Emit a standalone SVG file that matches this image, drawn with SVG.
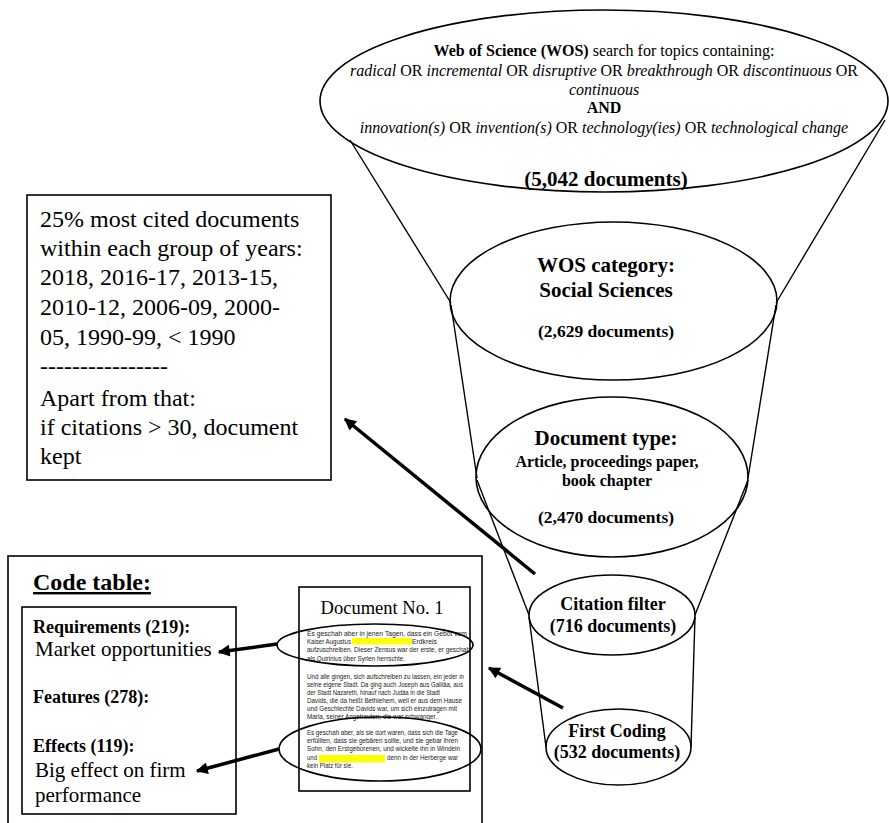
<svg xmlns="http://www.w3.org/2000/svg" width="889" height="823" viewBox="0 0 889 823">
<defs>
<style>
.ser{font-family:"Liberation Serif","Times New Roman",serif;fill:#000}
.b{font-weight:bold}
.i{font-style:italic}
.shape{fill:#fff;stroke:#000;stroke-width:1.6}
.hollow{fill:none;stroke:#000;stroke-width:1.6}
.line{stroke:#000;stroke-width:1.4;fill:none}
.arrow{stroke:#000;stroke-width:3.5;fill:none;marker-end:url(#ah)}
.doc{font-family:"Liberation Sans",Arial,sans-serif;font-size:6.6px;fill:#222}
</style>
<marker id="ah" viewBox="0 0 10 10" refX="9" refY="5" markerWidth="4.2" markerHeight="3.4" orient="auto" markerUnits="strokeWidth">
<path d="M0,0 L10,5 L0,10 z" fill="#000"/>
</marker>
</defs>
<rect width="889" height="823" fill="#fff"/>

<g id="funnel-outline">
<line class="line" x1="350" y1="140" x2="451" y2="303"/>
<line class="line" x1="885" y1="120" x2="776" y2="303"/>
<line class="line" x1="451" y1="305" x2="477" y2="478"/>
<line class="line" x1="776" y1="305" x2="748" y2="478"/>
<line class="line" x1="477" y1="480" x2="529" y2="615"/>
<line class="line" x1="748" y1="480" x2="695" y2="615"/>
<line class="line" x1="529" y1="617" x2="546" y2="747"/>
<line class="line" x1="695" y1="617" x2="691" y2="747"/>
</g>

<g id="wos-search">
<ellipse class="hollow" cx="604" cy="101" rx="284" ry="91"/>
<text class="ser" font-size="16" text-anchor="middle" x="604" y="56"><tspan class="b">Web of Science (WOS)</tspan> search for topics containing:</text>
<text class="ser" font-size="16" text-anchor="middle" x="604" y="76"><tspan class="i">radical</tspan> OR <tspan class="i">incremental</tspan> OR <tspan class="i">disruptive</tspan> OR <tspan class="i">breakthrough</tspan> OR <tspan class="i">discontinuous</tspan> OR</text>
<text class="ser i" font-size="16" text-anchor="middle" x="604" y="95">continuous</text>
<text class="ser b" font-size="16" text-anchor="middle" x="604" y="113">AND</text>
<text class="ser" font-size="16" text-anchor="middle" x="604" y="133"><tspan class="i">innovation(s)</tspan> OR <tspan class="i">invention(s)</tspan> OR <tspan class="i">technology(ies)</tspan> OR <tspan class="i">technological change</tspan></text>
<text class="ser b" font-size="21" text-anchor="middle" x="606" y="186">(5,042 documents)</text>
</g>

<g id="wos-category">
<ellipse class="hollow" cx="613.5" cy="301" rx="163.5" ry="79"/>
<text class="ser b" font-size="21" text-anchor="middle" x="606" y="272">WOS category:</text>
<text class="ser b" font-size="21" text-anchor="middle" x="606" y="297">Social Sciences</text>
<text class="ser b" font-size="17.5" text-anchor="middle" x="606" y="337">(2,629 documents)</text>
</g>

<g id="document-type">
<ellipse class="hollow" cx="612" cy="477" rx="136" ry="80"/>
<text class="ser b" font-size="21" text-anchor="middle" x="606" y="445">Document type:</text>
<text class="ser b" font-size="16" text-anchor="middle" x="607" y="467">Article, proceedings paper,</text>
<text class="ser b" font-size="16" text-anchor="middle" x="607" y="486">book chapter</text>
<text class="ser b" font-size="17.5" text-anchor="middle" x="606" y="523">(2,470 documents)</text>
</g>

<g id="citation-filter">
<ellipse class="shape" cx="612" cy="615" rx="83" ry="40"/>
<text class="ser b" font-size="18" text-anchor="middle" x="613" y="610">Citation filter</text>
<text class="ser b" font-size="18" text-anchor="middle" x="613" y="632">(716 documents)</text>
</g>

<g id="first-coding">
<ellipse class="shape" cx="618.5" cy="747" rx="72.5" ry="38"/>
<text class="ser b" font-size="18" text-anchor="middle" x="617" y="737">First Coding</text>
<text class="ser b" font-size="18" text-anchor="middle" x="617" y="758">(532 documents)</text>
</g>

<g id="citation-criteria">
<rect class="shape" x="27" y="195" width="304" height="285"/>
<text class="ser" font-size="24" x="40" y="227">25% most cited documents</text>
<text class="ser" font-size="24" x="40" y="256">within each group of years:</text>
<text class="ser" font-size="24" x="40" y="285">2018, 2016-17, 2013-15,</text>
<text class="ser" font-size="24" x="40" y="315">2010-12, 2006-09, 2000-</text>
<text class="ser" font-size="24" x="40" y="345">05, 1990-99, &lt; 1990</text>
<text class="ser" font-size="24" x="40" y="374">----------------</text>
<text class="ser" font-size="24" x="40" y="406">Apart from that:</text>
<text class="ser" font-size="24" x="40" y="435">if citations &gt; 30, document</text>
<text class="ser" font-size="24" x="40" y="464">kept</text>
</g>

<g id="code-table">
<rect class="shape" x="8" y="556" width="474" height="290" stroke-width="2"/>
<text class="ser b" font-size="24" x="33" y="590" text-decoration="underline">Code table:</text>
<rect class="shape" x="22" y="607" width="214" height="207"/>
<text class="ser b" font-size="18" x="33" y="633">Requirements (219):</text>
<text class="ser" font-size="21" x="35" y="656">Market opportunities</text>
<text class="ser b" font-size="18" x="33" y="703">Features (278):</text>
<text class="ser b" font-size="18" x="33" y="752">Effects (119):</text>
<text class="ser" font-size="21" x="35" y="777">Big effect on firm</text>
<text class="ser" font-size="21" x="35" y="802">performance</text>
</g>

<g id="document-no-1">
<rect class="shape" x="299" y="587" width="171" height="204" stroke-width="2"/>
<text class="ser" font-size="18.5" text-anchor="middle" x="382" y="614">Document No. 1</text>
<rect x="352" y="638" width="60" height="6.5" fill="#ffff00"/>
<rect x="319" y="755" width="66" height="7.5" fill="#ffff00"/>
<text class="doc" x="307" y="636" textLength="160" lengthAdjust="spacingAndGlyphs">Es geschah aber in jenen Tagen, dass ein Gebot vom</text>
<text class="doc" x="307" y="644" textLength="44" lengthAdjust="spacingAndGlyphs">Kaiser Augustus</text>
<text class="doc" x="412" y="644" textLength="25" lengthAdjust="spacingAndGlyphs">Erdkreis</text>
<text class="doc" x="307" y="652" textLength="163" lengthAdjust="spacingAndGlyphs">aufzuschreiben.  Dieser Zensus war der erste, er geschah</text>
<text class="doc" x="307" y="661" textLength="98" lengthAdjust="spacingAndGlyphs">als Quirinius über Syrien herrschte.</text>
<text class="doc" x="307" y="679" textLength="157" lengthAdjust="spacingAndGlyphs">Und alle gingen, sich aufschreiben zu lassen, ein jeder in</text>
<text class="doc" x="307" y="687" textLength="156" lengthAdjust="spacingAndGlyphs">seine eigene Stadt. Da ging auch Joseph aus Galiläa, aus</text>
<text class="doc" x="307" y="695" textLength="133" lengthAdjust="spacingAndGlyphs">der Stadt Nazareth, hinauf nach Judäa in die Stadt</text>
<text class="doc" x="307" y="703" textLength="155" lengthAdjust="spacingAndGlyphs">Davids, die da heißt Bethlehem, weil er aus dem Hause</text>
<text class="doc" x="307" y="711" textLength="150" lengthAdjust="spacingAndGlyphs">und Geschlechte Davids war, um sich einzutragen mit</text>
<text class="doc" x="307" y="719" textLength="130" lengthAdjust="spacingAndGlyphs">Maria, seiner Angetrauten; die war schwanger.</text>
<text class="doc" x="307" y="735" textLength="151" lengthAdjust="spacingAndGlyphs">Es geschah aber, als sie dort waren, dass sich die Tage</text>
<text class="doc" x="307" y="743" textLength="151" lengthAdjust="spacingAndGlyphs">erfüllten, dass sie gebären sollte, und sie gebar ihren</text>
<text class="doc" x="307" y="751" textLength="153" lengthAdjust="spacingAndGlyphs">Sohn, den Erstgeborenen, und wickelte ihn in Windeln</text>
<text class="doc" x="307" y="760" textLength="10" lengthAdjust="spacingAndGlyphs">und</text>
<text class="doc" x="387" y="760" textLength="71" lengthAdjust="spacingAndGlyphs">denn in der Herberge war</text>
<text class="doc" x="307" y="768" textLength="46" lengthAdjust="spacingAndGlyphs">kein Platz für sie.</text>
<ellipse class="hollow" cx="375" cy="645" rx="98" ry="21"/>
<ellipse class="hollow" cx="380" cy="749" rx="101" ry="32"/>
</g>

<g id="connectors">
<line class="arrow" x1="535" y1="574" x2="345" y2="419"/>
<line class="arrow" x1="563" y1="708" x2="489" y2="668"/>
<line class="arrow" x1="277" y1="644" x2="219" y2="652"/>
<line class="arrow" x1="279" y1="749" x2="197" y2="771"/>
</g>
</svg>
